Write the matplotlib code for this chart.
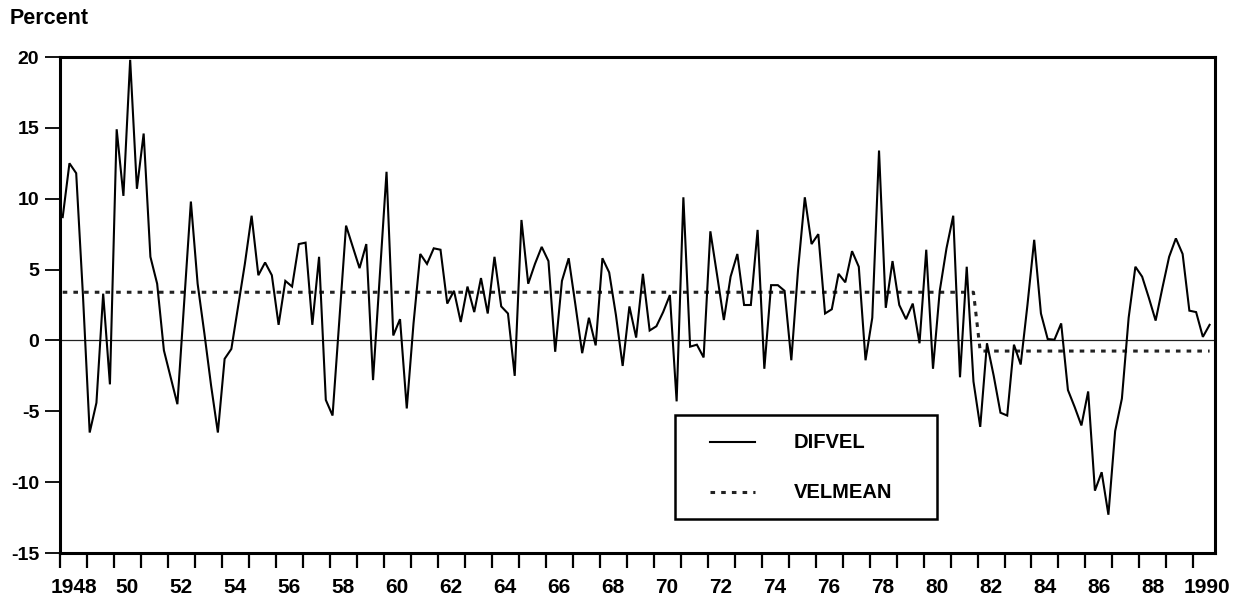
import numpy as np
import matplotlib
matplotlib.use("Agg")
import matplotlib.pyplot as plt
from matplotlib.lines import Line2D
from matplotlib.patches import Rectangle

plt.rcParams['font.family'] = ['Liberation Sans', 'DejaVu Sans']
plt.rcParams['font.weight'] = 'bold'

# ---------------- data (quarterly, starting 1948Q1) ----------------
start_year = 1948
difvel = [
    8.7, 12.5, 11.8, 3.2, -6.5, -4.4, 3.3, -3.1,          # 1948-49
    14.9, 10.2, 19.8, 10.7, 14.6, 5.9, 4.0, -0.7,          # 1950-51
    -2.6, -4.5, 2.7, 9.8, 4.0, 0.5, -3.2, -6.5,            # 1952-53
    -1.3, -0.6, 2.4, 5.4, 8.8, 4.6, 5.5, 4.6,              # 1954-55
    1.1, 4.2, 3.8, 6.8, 6.9, 1.1, 5.9, -4.2,               # 1956-57
    -5.3, 1.4, 8.1, 6.6, 5.1, 6.8, -2.8, 4.5,              # 1958-59
    11.9, 0.35, 1.5, -4.8, 1.2, 6.1, 5.4, 6.5,             # 1960-61
    6.4, 2.6, 3.5, 1.3, 3.8, 2.0, 4.4, 1.9,                # 1962-63
    5.9, 2.4, 1.9, -2.5, 8.5, 4.0, 5.4, 6.6,               # 1964-65
    5.6, -0.8, 4.2, 5.8, 2.5, -0.9, 1.6, -0.35,            # 1966-67
    5.8, 4.8, 1.8, -1.8, 2.4, 0.2, 4.7, 0.7,               # 1968-69
    1.0, 2.0, 3.2, -4.3, 10.1, -0.44, -0.3, -1.2,          # 1970-71
    7.7, 4.6, 1.44, 4.5, 6.1, 2.5, 2.5, 7.8,               # 1972-73
    -2.0, 3.9, 3.9, 3.5, -1.4, 5.0, 10.1, 6.8,             # 1974-75
    7.5, 1.9, 2.2, 4.7, 4.1, 6.3, 5.2, -1.4,               # 1976-77
    1.6, 13.4, 2.3, 5.6, 2.5, 1.5, 2.6, -0.2,              # 1978-79
    6.4, -2.0, 3.5, 6.5, 8.8, -2.6, 5.2, -2.9,             # 1980-81
    -6.1, -0.2, -2.5, -5.1, -5.3, -0.3, -1.7, 2.5,         # 1982-83
    7.1, 1.9, 0.1, 0.05, 1.2, -3.5, -4.7, -6.0,            # 1984-85
    -3.6, -10.6, -9.3, -12.3, -6.4, -4.1, 1.6, 5.2,        # 1986-87
    4.5, 3.0, 1.4, 3.7, 5.9, 7.2, 6.1, 2.1,                # 1988-89
    2.0, 0.25, 1.1,                                        # 1990
]
velmean_levels = [3.4, -0.75]     # mean before / after the break
velmean_break = 136               # first quarter of the second regime

series_labels = ["DIFVEL", "VELMEAN"]
ytick_vals = [-15, -10, -5, 0, 5, 10, 15, 20]
xlabel_years = list(range(1948, 1991, 2))
xlabel_text = ["1948"] + [f"{y % 100:02d}" for y in xlabel_years[1:-1]] + ["1990"]

# ---------------- build ----------------
n = len(difvel)
x = start_year + 0.1 + np.arange(n) / 4.0
velmean = np.where(np.arange(n) < velmean_break, velmean_levels[0], velmean_levels[1])

fig = plt.figure(figsize=(12.35, 5.96), dpi=100)
ax = fig.add_axes([60 / 1235, 43 / 596, 1155 / 1235, 496 / 596])

ax.axhline(0, color='#222222', lw=0.9, zorder=1)
ax.plot(x, difvel, color='black', lw=1.5, zorder=3, solid_joinstyle='miter')
dot_style = (0, (1.5, 2.0))
ax.plot(x, velmean, color='#222222', lw=2.2, linestyle=dot_style, zorder=2)

ax.set_xlim(1948, 1990.8)
ax.set_ylim(-15, 20)

for s in ax.spines.values():
    s.set_linewidth(2.2)

ax.set_yticks(ytick_vals)
ax.set_yticklabels([str(v) for v in ytick_vals])
ax.tick_params(axis='y', direction='out', length=11, width=1.3, pad=4, labelsize=14)

ax.set_xticks(np.arange(1948, 1991, 1))
ax.set_xticklabels([])
ax.set_xticks([y + 0.5 for y in xlabel_years], minor=True)
ax.set_xticklabels(xlabel_text, minor=True)
ax.tick_params(axis='x', which='major', direction='out', length=11, width=1.6)
ax.tick_params(axis='x', which='minor', length=0, pad=18, labelsize=15)

fig.text(10 / 1235, 1 - 19 / 596, "Percent", fontsize=15.5, fontweight='bold',
         ha='left', va='center')

# ---------------- legend (boxed) ----------------
bx0, by0 = (675 - 60) / 1155, (553 - 519) / 496
bw, bh = 262 / 1155, 104 / 496
ax.add_patch(Rectangle((bx0, by0), bw, bh, transform=ax.transAxes,
                       facecolor='white', edgecolor='black', lw=1.8, zorder=5))
row1 = (553 - 442) / 496
row2 = (553 - 492) / 496
hx0, hx1 = (710 - 60) / 1155, (755 - 60) / 1155
tx = (794 - 60) / 1155
ax.add_line(Line2D([hx0, hx1], [row1, row1], transform=ax.transAxes,
                   color='black', lw=1.5, zorder=6))
ax.add_line(Line2D([hx0, hx1], [row2, row2], transform=ax.transAxes,
                   color='#222222', lw=2.2, linestyle=dot_style, zorder=6))
ax.text(tx, row1, series_labels[0], transform=ax.transAxes, fontsize=14.5,
        fontweight='bold', va='center', ha='left', zorder=7)
ax.text(tx, row2, series_labels[1], transform=ax.transAxes, fontsize=14.5,
        fontweight='bold', va='center', ha='left', zorder=7)

fig.savefig("out.png", dpi=100)
